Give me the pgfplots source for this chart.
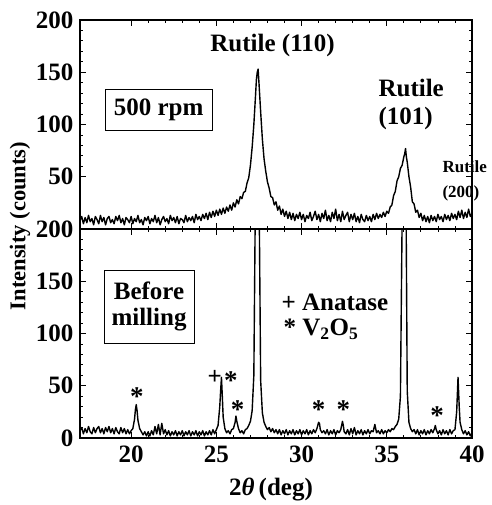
\documentclass[border=0pt]{standalone}
\usepackage{fontspec}
\setmainfont{Liberation Serif}
\usepackage{pgfplots}
\pgfplotsset{compat=1.18}
\usepackage{pgfplotstable}

\pgfplotstableread{
x y
17.0 8
17.1 12
17.2 5
17.3 11
17.4 6
17.5 13
17.6 7
17.7 10
17.8 4
17.9 12
18.0 9
18.1 5
18.2 13
18.3 7
18.4 11
18.5 4
18.6 10
18.7 12
18.8 6
18.9 9
19.0 5
19.1 12
19.2 8
19.3 13
19.4 6
19.5 10
19.6 4
19.7 11
19.8 9
19.9 6
20.0 12
20.1 5
20.2 10
20.3 7
20.4 13
20.5 6
20.6 9
20.7 4
20.8 11
20.9 8
21.0 12
21.1 5
21.2 10
21.3 7
21.4 13
21.5 6
21.6 11
21.7 4
21.8 9
21.9 12
22.0 7
22.1 10
22.2 5
22.3 13
22.4 8
22.5 11
22.6 6
22.7 12
22.8 5
22.9 10
23.0 9
23.1 6
23.2 13
23.3 7
23.4 11
23.5 8
23.6 12
23.7 6
23.8 14
23.9 9
24.0 12
24.1 8
24.2 14
24.3 10
24.4 15
24.5 9
24.6 16
24.7 11
24.8 17
24.9 12
25.0 18
25.1 13
25.2 19
25.3 14
25.4 20
25.5 15
25.6 21
25.7 17
25.8 23
25.9 18
26.0 25
26.1 21
26.2 28
26.3 24
26.4 31
26.5 29
26.6 35
26.7 36
26.8 44
26.9 49
27.0 61
27.1 78
27.2 100
27.3 128
27.35 143
27.4 150
27.45 153
27.5 140
27.6 112
27.7 86
27.8 67
27.9 55
28.0 45
28.1 39
28.2 31
28.3 30
28.4 23
28.5 26
28.6 18
28.7 22
28.8 14
28.9 19
29.0 12
29.1 17
29.2 10
29.3 16
29.4 9
29.5 15
29.6 8
29.7 14
29.8 10
29.9 16
30.0 9
30.1 14
30.2 7
30.3 13
30.4 10
30.5 16
30.6 8
30.7 12
30.8 17
30.9 9
31.0 14
31.1 7
31.2 15
31.3 10
31.4 18
31.5 8
31.6 13
31.7 7
31.8 16
31.9 10
32.0 19
32.1 8
32.2 14
32.3 7
32.4 17
32.5 9
32.6 13
32.7 16
32.8 7
32.9 14
33.0 9
33.1 15
33.2 7
33.3 12
33.4 6
33.5 14
33.6 9
33.7 7
33.8 13
33.9 8
34.0 12
34.1 7
34.2 14
34.3 9
34.4 15
34.5 10
34.6 14
34.7 11
34.8 16
34.9 12
35.0 17
35.1 15
35.2 21
35.3 23
35.4 32
35.5 36
35.6 46
35.7 50
35.8 58
35.9 61
36.0 69
36.05 72
36.1 77
36.15 69
36.2 64
36.3 50
36.4 40
36.5 26
36.6 24
36.7 16
36.8 18
36.9 11
37.0 15
37.1 8
37.2 13
37.3 7
37.4 12
37.5 6
37.6 13
37.7 8
37.8 12
37.9 7
38.0 14
38.1 9
38.2 12
38.3 7
38.4 14
38.5 9
38.6 13
38.7 8
38.8 15
38.9 10
39.0 14
39.1 9
39.2 17
39.3 11
39.4 18
39.5 10
39.6 16
39.7 11
39.8 19
39.9 12
40.0 15
}\topdata

\pgfplotstableread{
x y
17.0 7
17.1 10
17.2 4
17.3 9
17.4 5
17.5 11
17.6 6
17.7 4
17.8 10
17.9 5
18.0 9
18.1 11
18.2 5
18.3 9
18.4 4
18.5 10
18.6 6
18.7 11
18.8 5
18.9 9
19.0 4
19.1 10
19.2 6
19.3 4
19.4 10
19.5 5
19.6 9
19.7 4
19.8 8
19.9 4
20.0 7
20.1 9
20.2 18
20.25 27
20.3 32
20.35 26
20.4 17
20.5 9
20.6 6
20.7 3
20.8 6
20.9 2
21.0 6
21.1 2
21.2 7
21.3 3
21.4 11
21.5 4
21.6 13
21.7 3
21.8 14
21.9 4
22.0 8
22.1 3
22.2 7
22.3 2
22.4 6
22.5 3
22.6 7
22.7 2
22.8 6
22.9 3
23.0 7
23.1 2
23.2 6
23.3 3
23.4 7
23.5 2
23.6 6
23.7 3
23.8 7
23.9 2
24.0 6
24.1 3
24.2 7
24.3 2
24.4 6
24.5 3
24.6 7
24.7 3
24.8 8
24.9 4
25.0 8
25.1 12
25.2 30
25.25 45
25.3 58
25.35 40
25.4 20
25.5 9
25.6 5
25.7 7
25.8 4
25.9 8
26.0 9
26.1 15
26.15 21
26.2 16
26.3 9
26.4 5
26.5 7
26.6 4
26.7 8
26.8 9
26.9 12
27.0 16
27.1 26
27.2 60
27.3 250
27.4 600
27.5 250
27.6 55
27.7 24
27.8 15
27.9 11
28.0 8
28.1 10
28.2 6
28.3 9
28.4 5
28.5 8
28.6 4
28.7 8
28.8 3
28.9 7
29.0 4
29.1 8
29.2 3
29.3 7
29.4 4
29.5 8
29.6 3
29.7 7
29.8 4
29.9 8
30.0 3
30.1 7
30.2 4
30.3 8
30.4 3
30.5 7
30.6 4
30.7 8
30.8 5
30.9 9
31.0 15
31.05 14
31.1 8
31.2 5
31.3 7
31.4 4
31.5 8
31.6 3
31.7 7
31.8 4
31.9 8
32.0 3
32.1 7
32.2 5
32.3 8
32.4 16
32.45 12
32.5 6
32.6 4
32.7 8
32.8 3
32.9 9
33.0 4
33.1 10
33.2 3
33.3 7
33.4 4
33.5 8
33.6 3
33.7 7
33.8 4
33.9 8
34.0 4
34.1 7
34.2 6
34.3 13
34.4 5
34.5 7
34.6 4
34.7 8
34.8 4
34.9 7
35.0 5
35.1 8
35.2 6
35.3 9
35.4 8
35.5 11
35.6 13
35.7 18
35.8 40
35.9 210
36.0 420
36.1 300
36.2 45
36.3 15
36.4 9
36.5 6
36.6 8
36.7 4
36.8 8
36.9 3
37.0 7
37.1 4
37.2 8
37.3 3
37.4 7
37.5 4
37.6 8
37.7 5
37.8 9
37.85 12
37.9 8
38.0 4
38.1 7
38.2 3
38.3 8
38.4 4
38.5 7
38.6 3
38.7 8
38.8 4
38.9 7
39.0 8
39.1 25
39.18 58
39.25 30
39.3 15
39.4 8
39.5 4
39.6 7
39.7 3
39.8 6
39.9 2
40.0 5
}\botdata

\newcommand{\tfont}{\fontsize{25}{26}\selectfont\bfseries}

\pgfplotsset{
  panel/.style={
    scale only axis,
    width=392pt, height=209pt,
    xmin=17, xmax=40,
    ymin=0, ymax=200,
    xtick={20,25,30,35,40},
    minor x tick num=4,
    minor y tick num=4,
    tick align=inside,
    xtick pos=both, ytick pos=both,
    major tick length=6pt,
    minor tick length=3pt,
    every tick/.style={black, line width=0.8pt},
    axis line style={line width=1.1pt},
    tick label style={font=\tfont},
    yticklabel style={xshift=-3pt},
    /pgf/number format/assume math mode=true,
    clip mode=individual,
  },
}

\begin{document}
\begin{tikzpicture}
\begin{axis}[panel, name=bot, at={(0pt,0pt)}, anchor=south west,
  ytick={0,50,100,150,200},
  xticklabel style={yshift=-4pt}]
\addplot[black, line width=1.4pt, line join=round] table[x=x,y=y] {\botdata};
\node[draw, line width=0.8pt, align=center, inner sep=0pt,
  minimum width=90pt, minimum height=73pt, font=\tfont]
  at (axis cs:21.05,125.8) {Before\\milling};
\node[anchor=west, font=\tfont] at (axis cs:28.62,130) {+ Anatase};
\node[anchor=west, font=\tfont] at (axis cs:28.74,104) {* V\textsubscript{2}O\textsubscript{5}};
\node[anchor=base, yshift=-12pt, font=\fontsize{27}{27}\selectfont\bfseries] at (axis cs:20.33,43) {*};
\node[anchor=base, yshift=-7pt, font=\fontsize{25}{25}\selectfont\bfseries] at (axis cs:24.9,58) {+};
\node[anchor=base, yshift=-12pt, font=\fontsize{27}{27}\selectfont\bfseries] at (axis cs:25.85,58) {*};
\node[anchor=base, yshift=-12pt, font=\fontsize{27}{27}\selectfont\bfseries] at (axis cs:26.25,30) {*};
\node[anchor=base, yshift=-12pt, font=\fontsize{27}{27}\selectfont\bfseries] at (axis cs:31.0,30) {*};
\node[anchor=base, yshift=-12pt, font=\fontsize{27}{27}\selectfont\bfseries] at (axis cs:32.45,30) {*};
\node[anchor=base, yshift=-12pt, font=\fontsize{27}{27}\selectfont\bfseries] at (axis cs:37.95,24) {*};
\end{axis}
\begin{axis}[panel, name=top, at={(0pt,209pt)}, anchor=south west,
  ytick={50,100,150,200}, xticklabels={}]
\addplot[black, line width=1.4pt, line join=round] table[x=x,y=y] {\topdata};
\node[draw, line width=0.8pt, inner sep=0pt,
  minimum width=107pt, minimum height=41pt, font=\tfont]
  at (axis cs:21.61,113.9) {500 rpm};
\node[font=\tfont] at (axis cs:28.3,176) {Rutile (110)};
\node[anchor=west, font=\tfont] at (axis cs:34.31,135) {Rutile};
\node[anchor=west, font=\tfont] at (axis cs:34.31,106) {(101)};
\node[anchor=west, inner sep=1pt, font=\fontsize{17}{17}\selectfont\bfseries] at (axis cs:38.2,59.3) {Rutile};
\node[anchor=west, inner sep=1pt, font=\fontsize{17}{17}\selectfont\bfseries] at (axis cs:38.2,34.4) {(200)};
\end{axis}
\node[rotate=90, font=\fontsize{22.5}{22.5}\selectfont\bfseries] at (-60pt,212pt) {Intensity (counts)};
\node[font=\fontsize{25}{25}\selectfont\bfseries] at (191pt,-52pt) {2\textit{θ}\,(deg)};
\pgfresetboundingbox
\path (-80pt,-67pt) rectangle (411pt,438pt);
\end{tikzpicture}
\end{document}
